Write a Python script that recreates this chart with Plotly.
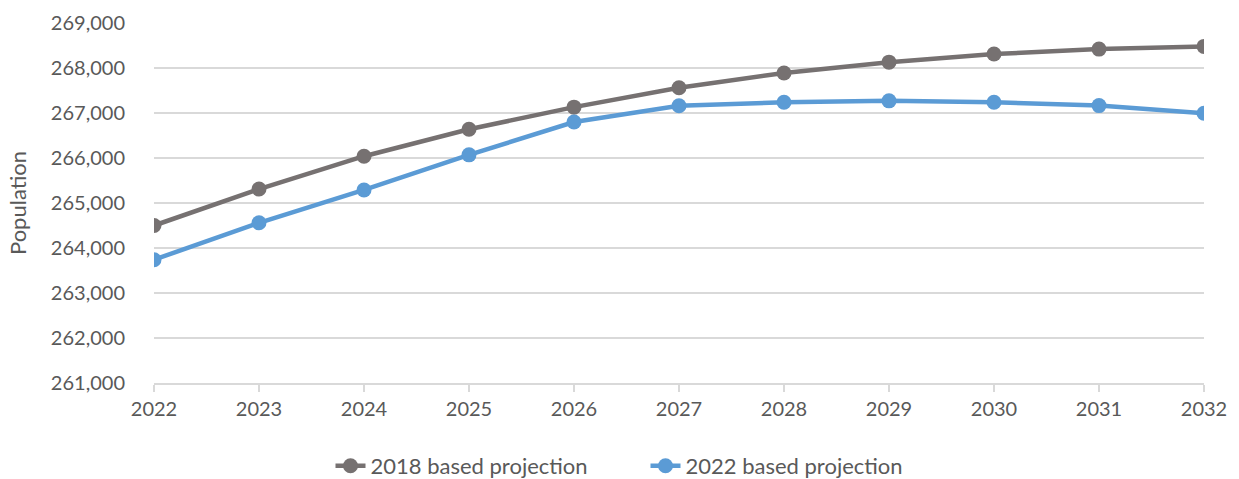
import plotly.graph_objects as go

years = [2022, 2023, 2024, 2025, 2026, 2027, 2028, 2029, 2030, 2031, 2032]
proj_2018 = [264500, 265310, 266040, 266640, 267130, 267560, 267890, 268130, 268310, 268420, 268480]
proj_2022 = [263740, 264560, 265290, 266070, 266800, 267160, 267240, 267270, 267240, 267165, 266995]
series_names = ["2018 based projection", "2022 based projection"]
colors = ["#767171", "#5B9BD5"]
y_ticks = list(range(261000, 270000, 1000))

font_fam = "Lato, Open Sans, sans-serif"
W, H = 1239, 479
fig = go.Figure()
for name, vals, c in zip(series_names, [proj_2018, proj_2022], colors):
    fig.add_trace(go.Scatter(
        x=years, y=vals, name=name, mode="lines+markers",
        line=dict(color=c, width=4.5),
        marker=dict(color=c, size=15),
    ))

fig.update_layout(
    width=W, height=H,
    margin=dict(l=154, r=35, t=23, b=96),
    plot_bgcolor="white", paper_bgcolor="white",
    font=dict(family=font_fam, size=20, color="#595959"),
    showlegend=True,
    legend=dict(orientation="h", x=0.5 + 26 / W, xanchor="center", xref="container",
                y=13 / H, yanchor="middle", yref="container",
                font=dict(size=22, color="#595959"), tracegroupgap=0,
                entrywidth=270),
)
fig.update_xaxes(
    range=[2022, 2032], tickvals=years, ticktext=[str(y) for y in years],
    showgrid=False, showline=True, linecolor="#D9D9D9", linewidth=1.5,
    ticks="outside", tickcolor="#D9D9D9", ticklen=7, tickwidth=1.5,
    zeroline=False, automargin=False, tickfont=dict(size=20, color="#595959"),
)
fig.update_yaxes(
    range=[261000, 269000], tickvals=y_ticks, tickformat=",",
    showgrid=True, gridcolor="#D9D9D9", gridwidth=1.5, zeroline=False,
    showline=False, ticks="", ticklabelstandoff=28, automargin=False,
    title=dict(text="Population", font=dict(size=22, color="#595959"), standoff=18),
    tickfont=dict(size=20, color="#595959"),
)
fig.write_html("out.html", config={"displayModeBar": False},
               post_script="document.body.style.margin='0';document.body.style.overflow='hidden';")
